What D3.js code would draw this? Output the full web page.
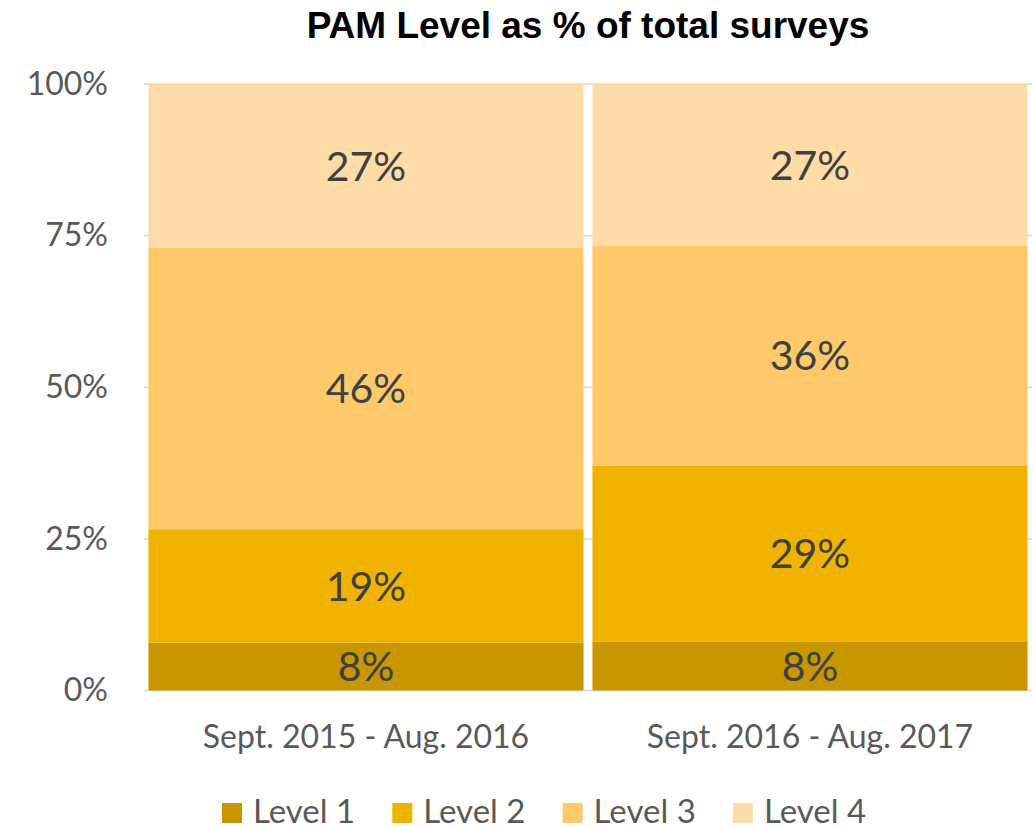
<!DOCTYPE html>
<html>
<head>
<meta charset="utf-8">
<script src="https://cdn.jsdelivr.net/npm/d3@7"></script>
<style>
  body { margin: 0; background: #fff; }
  svg text { font-family: Lato, "Open Sans", sans-serif; }
</style>
</head>
<body>
<div id="chart"></div>
<script>
// values (% of surveys)
var periods = ["Sept. 2015 - Aug. 2016", "Sept. 2016 - Aug. 2017"];
var levels = ["Level 1", "Level 2", "Level 3", "Level 4"];
var level1 = [7.9, 8.1];
var level2 = [18.7, 29.0];
var level3 = [46.4, 36.2];
var level4 = [27.0, 26.7];
var yTicks = [0, 25, 50, 75, 100];
var colors = ["#C89600", "#F0B400", "#FEC96A", "#FEDCA8"];

var width = 1033, height = 827;
var margin = {top: 84, right: 1, bottom: 136.5, left: 144};

var svg = d3.select("#chart").append("svg")
  .attr("width", width)
  .attr("height", height);

// rows for the stack
var rows = periods.map(function(p, i) {
  return {period: p, "Level 1": level1[i], "Level 2": level2[i], "Level 3": level3[i], "Level 4": level4[i]};
});
var series = d3.stack().keys(levels)(rows);

var x = d3.scaleBand()
  .domain(periods)
  .range([margin.left, width - margin.right])
  .paddingInner(0.02)
  .paddingOuter(0.01);

var y = d3.scaleLinear()
  .domain([0, 100])
  .range([height - margin.bottom, margin.top]);

// title
svg.append("text")
  .attr("x", 588)
  .attr("y", 38)
  .attr("text-anchor", "middle")
  .style("font-family", "'Liberation Sans', Arial, sans-serif")
  .style("font-weight", "bold")
  .style("font-size", "37px")
  .attr("fill", "#000")
  .text("PAM Level as % of total surveys");

// gridlines
svg.append("g")
  .selectAll("line")
  .data(yTicks)
  .join("line")
  .attr("x1", margin.left)
  .attr("x2", width - margin.right)
  .attr("y1", function(d) { return y(d); })
  .attr("y2", function(d) { return y(d); })
  .attr("stroke", "#d9d9d9")
  .attr("stroke-width", 1.5);

// y axis
var yAxis = svg.append("g")
  .attr("transform", "translate(" + margin.left + ",0)")
  .call(d3.axisLeft(y).tickValues(yTicks).tickSize(0).tickPadding(36).tickFormat(function(d) { return d + "%"; }));
yAxis.select(".domain").remove();
yAxis.selectAll("text")
  .style("font-size", "32px")
  .attr("fill", "#595959");

// bars
var layer = svg.append("g")
  .selectAll("g")
  .data(series)
  .join("g")
  .attr("fill", function(d, i) { return colors[i]; });

layer.selectAll("rect")
  .data(function(d) { return d; })
  .join("rect")
  .attr("x", function(d) { return x(d.data.period); })
  .attr("width", x.bandwidth())
  .attr("y", function(d) { return y(d[1]); })
  .attr("height", function(d) { return y(d[0]) - y(d[1]); });

// data labels
layer.selectAll("text")
  .data(function(d) { return d.map(function(v) { v.key = d.key; return v; }); })
  .join("text")
  .attr("x", function(d) { return x(d.data.period) + x.bandwidth() / 2; })
  .attr("y", function(d) { return (y(d[0]) + y(d[1])) / 2; })
  .attr("dy", "0.36em")
  .attr("text-anchor", "middle")
  .style("font-size", "41px")
  .attr("fill", "#404040")
  .text(function(d) { return Math.round(d.data[d.key]) + "%"; });

// x axis labels
var xAxis = svg.append("g")
  .attr("transform", "translate(0," + y(0) + ")")
  .call(d3.axisBottom(x).tickSize(0).tickPadding(35));
xAxis.select(".domain").remove();
xAxis.selectAll("text")
  .style("font-size", "32px")
  .attr("fill", "#595959");

// legend
var legend = svg.append("g")
  .selectAll("g")
  .data(levels)
  .join("g")
  .attr("transform", function(d, i) { return "translate(" + (222 + i * 170.3) + ",803)"; });

legend.append("rect")
  .attr("width", 20)
  .attr("height", 20)
  .attr("fill", function(d, i) { return colors[i]; });

legend.append("text")
  .attr("x", 31)
  .attr("y", 20)
  .style("font-size", "33px")
  .attr("fill", "#595959")
  .text(function(d) { return d; });
</script>
</body>
</html>
